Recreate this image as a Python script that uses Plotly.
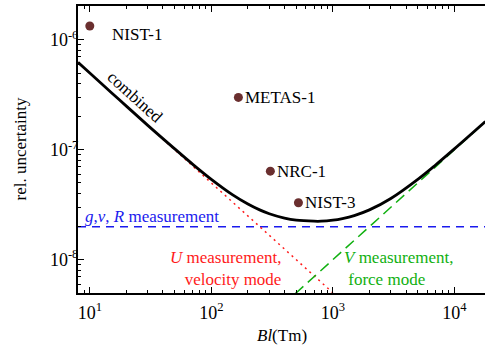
import numpy as np
import plotly.graph_objects as go

# ---- data ----
bl_combined = [8.0, 10, 15, 20, 30, 50, 70, 100, 150, 200, 250, 300, 400, 500, 700, 800,
               1000, 1200, 1500, 2000, 3000, 5000, 7000, 10000, 18000]
u_combined = [6.25e-7, 5.0e-7, 3.33e-7, 2.5e-7, 1.67e-7, 1.02e-7, 7.42e-8, 5.39e-8, 3.89e-8,
              3.21e-8, 2.84e-8, 2.62e-8, 2.39e-8, 2.29e-8, 2.24e-8, 2.24e-8,
              2.29e-8, 2.37e-8, 2.52e-8, 2.84e-8, 3.61e-8, 5.39e-8, 7.28e-8, 1.02e-7, 1.81e-7]

bl_umeas = [8.0, 1000]
u_umeas = [6.25e-7, 5.0e-9]

bl_vmeas = [490, 18000]
u_vmeas = [4.9e-9, 1.8e-7]

bl_gvr = [8.0, 18000]
u_gvr = [2.0e-8, 2.0e-8]

exp_names = ["NIST-1", "METAS-1", "NRC-1", "NIST-3"]
exp_bl = [10, 167, 306, 521]
exp_u = [1.34e-6, 3.0e-7, 6.4e-8, 3.3e-8]

x_tickvals = [10, 100, 1000, 10000]
x_ticktext = ["10<sup>1</sup>", "10<sup>2</sup>", "10<sup>3</sup>", "10<sup>4</sup>"]
y_tickvals = [1e-8, 1e-7, 1e-6]
y_ticktext = ["10<sup>-8</sup>", "10<sup>-7</sup>", "10<sup>-6</sup>"]

FONT = "Liberation Serif, DejaVu Serif, serif"
FS = 17
W, H = 485, 346
L, R, T, B = 78, 0, 6, 53

fig = go.Figure()
fig.add_trace(go.Scatter(x=bl_gvr, y=u_gvr, mode="lines",
                         line=dict(color="#1a1aee", width=1.5, dash="8px,6px"), hoverinfo="skip"))
fig.add_trace(go.Scatter(x=bl_umeas, y=u_umeas, mode="lines",
                         line=dict(color="#ff1a1a", width=1.5, dash="2px,4px"), hoverinfo="skip"))
fig.add_trace(go.Scatter(x=bl_vmeas, y=u_vmeas, mode="lines",
                         line=dict(color="#10b010", width=1.5, dash="11px,6px"), hoverinfo="skip"))
fig.add_trace(go.Scatter(x=bl_combined, y=u_combined, mode="lines", line_shape="spline",
                         line=dict(color="black", width=2.8), hoverinfo="skip"))
fig.add_trace(go.Scatter(x=exp_bl, y=exp_u, mode="markers",
                         marker=dict(color="#6a2f2f", size=9), hoverinfo="skip"))

ann = []
shifts = {"NIST-1": (20, -9), "METAS-1": (5, 0), "NRC-1": (5, 0), "NIST-3": (5, 0)}
for n, bx, uy in zip(exp_names, exp_bl, exp_u):
    dx, dy = shifts[n]
    ann.append(dict(x=np.log10(bx), y=np.log10(uy), xref="x", yref="y", text=n,
                    showarrow=False, xanchor="left", yanchor="middle", xshift=dx, yshift=dy,
                    font=dict(family=FONT, size=FS, color="black")))

ann += [
    dict(x=0.141, y=0.681, xref="paper", yref="paper", text="combined", textangle=42,
         showarrow=False, xanchor="center", yanchor="middle",
         font=dict(family=FONT, size=FS, color="black")),
    dict(x=0.0123, y=0.2666, xref="paper", yref="paper",
         text="<i>g</i>,<i>v</i>, <i>R</i> measurement", showarrow=False,
         xanchor="left", yanchor="middle", font=dict(family=FONT, size=FS, color="#1a1aee")),
    dict(x=0.5037, y=0.0846, xref="paper", yref="paper",
         text="<i>U</i> measurement,<br>velocity mode", showarrow=False, align="right",
         xanchor="right", yanchor="middle", font=dict(family=FONT, size=FS, color="#ff1a1a")),
    dict(x=0.6486, y=0.0846, xref="paper", yref="paper",
         text="<i>V</i> measurement,<br> force mode", showarrow=False, align="left",
         xanchor="left", yanchor="middle", font=dict(family=FONT, size=FS, color="#10b010")),
    dict(x=-0.1425, y=0.5, xref="paper", yref="paper", text="rel. uncertainty", textangle=-90,
         showarrow=False, xanchor="center", yanchor="middle",
         font=dict(family=FONT, size=FS, color="black")),
    dict(x=0.501, y=0.0, xref="paper", yref="paper", text="<i>Bl</i>(Tm)",
         showarrow=False, xanchor="center", yanchor="bottom", yshift=-53, borderpad=0,
         font=dict(family=FONT, size=FS, color="black")),
]

x_minor = [m * 10 ** e for e in range(0, 5) for m in range(2, 10)]
y_minor = [m * 10 ** e for e in range(-9, -5) for m in range(2, 10)]

fig.update_layout(
    width=W, height=H, margin=dict(l=L, r=R, t=T, b=B),
    paper_bgcolor="white", plot_bgcolor="white", showlegend=False,
    font=dict(family=FONT, size=FS, color="black"),
    annotations=ann,
    xaxis=dict(type="log", range=[0.903, 4.252], showgrid=False, zeroline=False,
               showline=True, linecolor="black", linewidth=2, mirror="ticks",
               ticks="inside", ticklen=6, tickwidth=1, tickcolor="black",
               tickmode="array", tickvals=x_tickvals, ticktext=x_ticktext,
               tickfont=dict(family=FONT, size=18), ticklabelstandoff=2,
               minor=dict(tickmode="array", tickvals=x_minor, ticks="inside", ticklen=3,
                          tickcolor="black", showgrid=False)),
    yaxis=dict(type="log", range=[-8.303, -5.691], showgrid=False, zeroline=False,
               showline=True, linecolor="black", linewidth=2, mirror=False,
               ticks="inside", ticklen=6, tickwidth=1, tickcolor="black",
               tickmode="array", tickvals=y_tickvals, ticktext=y_ticktext,
               tickfont=dict(family=FONT, size=18), ticklabelstandoff=-6,
               minor=dict(tickmode="array", tickvals=y_minor, ticks="inside", ticklen=3,
                          tickcolor="black", showgrid=False)),
)

fig.write_html("out.html")
